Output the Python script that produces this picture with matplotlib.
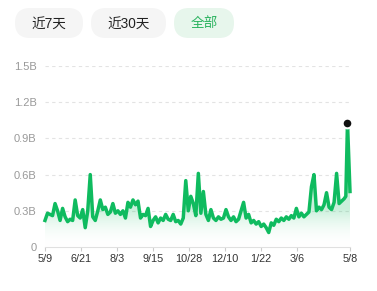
import numpy as np
import pandas as pd
import matplotlib
matplotlib.use('Agg')
import matplotlib.pyplot as plt
from matplotlib.patches import FancyBboxPatch, Polygon

plt.rcParams['font.family'] = ['Liberation Sans', 'Noto Sans CJK SC', 'DejaVu Sans']

# daily volume (billions), sampled every 3 days plus the last few days
start = pd.Timestamp('2024-05-09')
day_offsets = list(range(0, 360, 3)) + [359, 361, 364]
values = [
    0.22, 0.28, 0.27, 0.26, 0.36, 0.30, 0.22, 0.32, 0.25, 0.21,
    0.23, 0.22, 0.39, 0.26, 0.24, 0.31, 0.16, 0.30, 0.60, 0.25,
    0.22, 0.30, 0.39, 0.31, 0.33, 0.27, 0.29, 0.36, 0.28, 0.30,
    0.27, 0.30, 0.24, 0.37, 0.33, 0.39, 0.35, 0.38, 0.24, 0.27,
    0.26, 0.32, 0.17, 0.22, 0.25, 0.20, 0.24, 0.22, 0.27, 0.23,
    0.22, 0.27, 0.21, 0.22, 0.19, 0.24, 0.55, 0.30, 0.42, 0.36,
    0.26, 0.61, 0.28, 0.46, 0.27, 0.22, 0.31, 0.24, 0.22, 0.25,
    0.23, 0.24, 0.31, 0.25, 0.22, 0.25, 0.21, 0.23, 0.30, 0.37,
    0.24, 0.27, 0.20, 0.22, 0.19, 0.21, 0.17, 0.19, 0.16, 0.12,
    0.20, 0.18, 0.23, 0.21, 0.24, 0.22, 0.25, 0.23, 0.26, 0.24,
    0.32, 0.25, 0.28, 0.25, 0.27, 0.29, 0.50, 0.60, 0.30, 0.33,
    0.31, 0.35, 0.45, 0.33, 0.31, 0.37, 0.61, 0.36, 0.38, 0.40,
    0.42, 1.03, 0.46,
]
dates = [start + pd.Timedelta(days=d) for d in day_offsets]

tick_dates = ['2024-05-09', '2024-06-21', '2024-08-03', '2024-09-15', '2024-10-28',
              '2024-12-10', '2025-01-22', '2025-03-06', '2025-05-08']
tick_labels = ['5/9', '6/21', '8/3', '9/15', '10/28', '12/10', '1/22', '3/6', '5/8']
y_ticks = [0, 0.3, 0.6, 0.9, 1.2, 1.5]
y_labels = ['0', '0.3B', '0.6B', '0.9B', '1.2B', '1.5B']
buttons = ['近7天', '近30天', '全部']

green = '#0fbb5f'
W, H = 377, 291
fig = plt.figure(figsize=(W / 100, H / 100), dpi=100)

# filter buttons
bx = fig.add_axes([0, 0, 1, 1])
bx.set_xlim(0, W)
bx.set_ylim(H, 0)
bx.axis('off')
pills = [(15, 68, '#f5f5f5', '#222222'), (91, 75, '#f5f5f5', '#222222'), (174, 60, '#e7f6ec', '#2bb35f')]
for (x0, w, bg, fg), txt in zip(pills, buttons):
    bx.add_patch(FancyBboxPatch((x0, 8), w, 30, boxstyle='round,pad=0,rounding_size=15',
                                fc=bg, ec='none'))
    bx.text(x0 + w / 2, 23.5, txt, ha='center', va='center', fontsize=9.8, color=fg)

ax = fig.add_axes([45 / W, 1 - 247 / H, 305 / W, (247 - 66) / H])
x = pd.to_datetime(dates)
xn = matplotlib.dates.date2num(x)

# gradient fill below the line
grad = np.linspace(0.0, 1.0, 256).reshape(-1, 1)
cmap = matplotlib.colors.LinearSegmentedColormap.from_list(
    'g', [(0.0, (1, 1, 1, 0)), (0.3, (0.06, 0.73, 0.37, 0.22)), (1.0, (0.06, 0.73, 0.37, 0.3))])
img = ax.imshow(grad, extent=[xn[0], xn[-1], 0, max(values)], origin='lower', aspect='auto',
                cmap=cmap, zorder=1, interpolation='bilinear')
poly = Polygon(np.column_stack([np.r_[xn[0], xn, xn[-1]], np.r_[0, values, 0]]),
               closed=True, transform=ax.transData, fc='none', ec='none')
ax.add_patch(poly)
img.set_clip_path(poly)
ax.set_xlim(xn[0], matplotlib.dates.date2num(pd.Timestamp(tick_dates[-1])))
ax.set_ylim(0, 1.5)

ax.plot(x, values, color=green, lw=2.5, solid_joinstyle='round', zorder=3, clip_on=False)
imax = int(np.argmax(values))
ax.plot(x[imax], values[imax], 'o', ms=7, mfc='#111111', mec='white', mew=1.5, zorder=4, clip_on=False)

for yv in y_ticks[1:]:
    ax.axhline(yv, color='#e3e3e3', lw=0.8, ls=(0, (3, 3)), zorder=0)
ax.set_yticks(y_ticks)
ax.set_yticklabels(y_labels)
ax.set_xticks(pd.to_datetime(tick_dates))
ax.set_xticklabels(tick_labels)
ax.tick_params(axis='y', length=0, pad=6, labelsize=8, labelcolor='#999999')
ax.tick_params(axis='x', length=3, color='#cccccc', pad=2, labelsize=7.8, labelcolor='#333333')
for s in ['top', 'right', 'left']:
    ax.spines[s].set_visible(False)
ax.spines['bottom'].set_color('#e0e0e0')
ax.set_facecolor('none')

fig.savefig('out.png', dpi=100)
